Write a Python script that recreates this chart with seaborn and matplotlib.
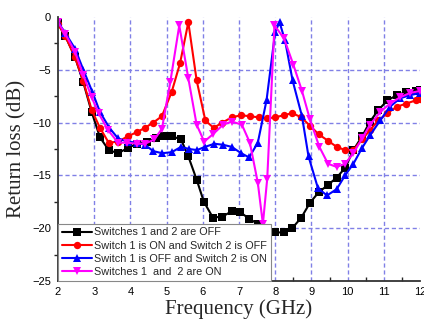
import numpy as np
import pandas as pd
import seaborn as sns
import matplotlib
matplotlib.use("Agg")
import matplotlib.pyplot as plt
from matplotlib.ticker import MultipleLocator

# ---- data ----
black_f = [2.0, 2.2, 2.47, 2.7, 2.93, 3.16, 3.4, 3.66, 3.93, 4.18, 4.45, 4.7, 4.93, 5.16, 5.4, 5.6,
           5.83, 6.03, 6.28, 6.54, 6.8, 7.04, 7.28, 7.52, 7.76, 8.0, 8.24, 8.47, 8.72, 8.96, 9.2,
           9.46, 9.7, 9.93, 10.16, 10.4, 10.62, 10.85, 11.1, 11.36, 11.62, 11.88, 12.0]
black_rl = [-0.6, -1.8, -3.8, -6.2, -9.0, -11.4, -12.6, -12.9, -12.4, -12.0, -11.8, -11.5, -11.3, -11.3,
            -11.6, -13.2, -15.4, -17.5, -19.0, -18.9, -18.4, -18.5, -19.1, -19.6, -20.1, -20.4, -20.4,
            -20.0, -19.0, -17.6, -16.6, -15.9, -15.2, -14.3, -12.6, -11.3, -9.9, -8.8, -7.9, -7.4,
            -7.1, -7.0, -6.9]

red_f = [2.0, 2.2, 2.47, 2.7, 2.93, 3.16, 3.4, 3.66, 3.93, 4.18, 4.4, 4.63, 4.87, 5.14, 5.37, 5.6,
         5.83, 6.07, 6.3, 6.54, 6.8, 7.06, 7.3, 7.54, 7.77, 8.0, 8.24, 8.47, 8.72, 8.96, 9.2, 9.45,
         9.7, 9.93, 10.16, 10.4, 10.62, 10.85, 11.1, 11.36, 11.62, 11.88, 12.0]
red_rl = [-0.7, -1.8, -3.8, -6.1, -8.8, -10.5, -11.9, -11.8, -11.3, -10.9, -10.5, -10.0, -9.4, -7.1,
          -4.4, -0.5, -6.0, -9.8, -10.5, -10.0, -9.5, -9.3, -9.4, -9.5, -9.6, -9.5, -9.3, -9.1, -9.5,
          -10.3, -11.1, -11.7, -12.3, -12.6, -12.6, -11.6, -10.7, -9.8, -9.1, -8.5, -8.2, -7.9, -7.8]

blue_f = [2.0, 2.2, 2.47, 2.7, 2.95, 3.16, 3.42, 3.66, 3.92, 4.18, 4.4, 4.63, 4.88, 5.14, 5.4, 5.62,
          5.84, 6.06, 6.32, 6.56, 6.8, 7.06, 7.28, 7.52, 7.76, 8.0, 8.12, 8.27, 8.48, 8.74, 8.92,
          9.18, 9.43, 9.7, 9.93, 10.16, 10.4, 10.62, 10.9, 11.17, 11.45, 11.72, 12.0]
blue_rl = [-0.5, -1.5, -3.0, -5.0, -7.1, -9.0, -10.5, -11.5, -11.8, -11.9, -12.1, -12.7, -12.9, -12.8,
           -12.3, -12.5, -12.6, -12.3, -12.0, -12.1, -12.3, -12.9, -13.3, -11.9, -7.9, -1.4, -0.5,
           -2.2, -6.0, -9.4, -13.2, -16.2, -16.9, -16.3, -15.0, -13.9, -12.4, -11.2, -9.8, -8.5,
           -7.7, -7.4, -7.2]

mag_f = [2.0, 2.2, 2.47, 2.7, 2.93, 3.12, 3.38, 3.66, 3.9, 4.18, 4.4, 4.66, 4.87, 5.1, 5.35, 5.6,
         5.83, 6.04, 6.28, 6.56, 6.8, 7.08, 7.3, 7.52, 7.66, 7.78, 7.98, 8.24, 8.5, 8.74, 8.96,
         9.22, 9.46, 9.7, 9.93, 10.16, 10.4, 10.62, 10.9, 11.17, 11.45, 11.72, 12.0]
mag_rl = [-0.5, -1.6, -3.3, -5.5, -7.6, -9.1, -10.7, -11.9, -11.9, -12.0, -12.0, -11.6, -10.6, -6.2,
          -0.8, -5.8, -10.2, -11.8, -11.1, -10.2, -9.9, -10.2, -11.9, -15.7, -19.6, -15.3, -0.8,
          -2.0, -4.5, -7.0, -9.7, -12.3, -13.9, -14.2, -13.9, -12.9, -11.5, -10.2, -9.0, -8.2,
          -7.6, -7.2, -7.0]

labels = ["Switches 1 and 2 are OFF",
          "Switch 1 is ON and Switch 2 is OFF",
          "Switch 1 is OFF and Switch 2 is ON",
          "Switches 1  and  2 are ON"]

x_ticks = [2, 3, 4, 5, 6, 7, 8, 9, 10, 11, 12]
y_ticks = [-25, -20, -15, -10, -5, 0]

# ---- plot ----
sns.set_theme(style="white")
plt.rcParams['font.family'] = ['Liberation Sans', 'DejaVu Sans']

fig = plt.figure(figsize=(4.24, 3.29), dpi=100)
ax = fig.add_axes([58/424, 1 - 281/329, (420 - 58)/424, (281 - 17)/329])

# grid (inner only)
for xv in x_ticks[1:-1]:
    ax.axvline(xv, color="#8080e6", lw=1.0, ls=(0, (3, 2)), zorder=0)
for yv in y_ticks[1:-1]:
    ax.axhline(yv, color="#8080e6", lw=1.0, ls=(0, (3, 2)), zorder=0)

series = [
    (black_f, black_rl, "black", "s"),
    (red_f, red_rl, "#ff0000", "o"),
    (blue_f, blue_rl, "#0000ff", "^"),
    (mag_f, mag_rl, "#ff00ff", "v"),
]
for (f, rl, c, m), lab in zip(series, labels):
    sns.lineplot(x=f, y=rl, ax=ax, color=c, marker=m, markersize=5.3, markeredgewidth=0,
                 lw=1.5, label=lab, sort=False, estimator=None)

ax.set_xlim(2, 12)
ax.set_ylim(-25, 0)
ax.set_xticks(x_ticks)
ax.set_yticks(y_ticks)
ax.xaxis.set_minor_locator(MultipleLocator(0.5))
ax.yaxis.set_minor_locator(MultipleLocator(2.5))
ax.tick_params(axis="x", which="major", direction="inout", length=6, width=1.2, labelsize=8, pad=1, colors="black")
ax.tick_params(axis="x", which="minor", direction="in", length=3, width=1.0, bottom=True)
ax.tick_params(axis="y", which="major", direction="out", length=4, width=1.2, labelsize=8, pad=1, colors="black")
ax.tick_params(axis="y", which="minor", direction="out", length=3, width=1.0, left=True)

for s in ["top", "right"]:
    ax.spines[s].set_visible(False)
for s in ["left", "bottom"]:
    ax.spines[s].set_color("#333333")
    ax.spines[s].set_linewidth(1.3)

ax.set_xlabel("Frequency (GHz)", family="Liberation Serif", fontsize=15, labelpad=2)
ax.set_ylabel("Return loss (dB)", family="Liberation Serif", fontsize=15, labelpad=4)

leg = ax.legend(loc="lower left", bbox_to_anchor=(0, 0), borderaxespad=0, fontsize=7.8,
                frameon=True, fancybox=False, edgecolor="#888888", framealpha=1,
                handlelength=2.8, handletextpad=0.2, labelspacing=0.3, borderpad=0.35)
leg.get_frame().set_linewidth(0.8)

fig.savefig("out.png", dpi=100)
